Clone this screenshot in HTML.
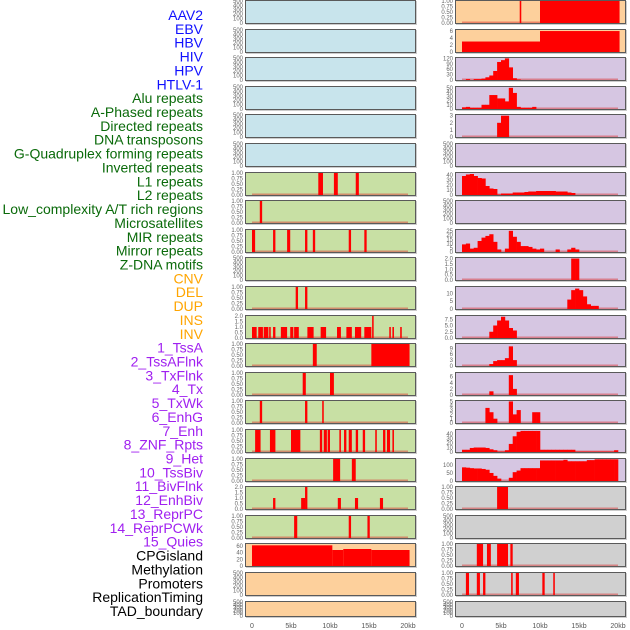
<!DOCTYPE html>
<html><head><meta charset="utf-8"><style>
body{margin:0;background:#fff;width:630px;height:630px;overflow:hidden}
svg{display:block}
</style></head><body>
<svg id="c" width="630" height="630" xmlns="http://www.w3.org/2000/svg"></svg>
<script>
const labels=["AAV2","EBV","HBV","HIV","HPV","HTLV-1","Alu repeats","A-Phased repeats","Directed repeats","DNA transposons","G-Quadruplex forming repeats","Inverted repeats","L1 repeats","L2 repeats","Low_complexity A/T rich regions","Microsatellites","MIR repeats","Mirror repeats","Z-DNA motifs","CNV","DEL","DUP","INS","INV","1_TssA","2_TssAFlnk","3_TxFlnk","4_Tx","5_TxWk","6_EnhG","7_Enh","8_ZNF_Rpts","9_Het","10_TssBiv","11_BivFlnk","12_EnhBiv","13_ReprPC","14_ReprPCWk","15_Quies","CPGisland","Methylation","Promoters","ReplicationTiming","TAD_boundary"];
const xTicks=[0,5,10,15,20];
const xTickLabels=["0","5kb","10kb","15kb","20kb"];
// left column bar segments [startKb,endKb,value]
const L6=[[8.5,9.1,1],[10.5,11.0,1],[13.3,13.7,1]];
const L7=[[1.0,1.3,1]];
const L8=[[0,0.4,1],[2.7,3.0,1],[4.5,4.9,1],[6.8,7.1,1],[7.8,8.1,1],[12.4,12.7,1],[14.4,14.7,1]];
const L10=[[5.6,5.9,1],[6.8,7.1,1]];
const L11=[[0,0.6,1],[0.8,1.4,1],[1.5,2.1,1],[2.2,2.4,1],[2.7,3.0,1],[3.7,4.5,1],[4.9,5.3,1],[5.4,6.0,1],[7.1,7.9,1],[8.8,9.5,1],[10.9,11.4,1],[12.1,12.8,1],[13.2,14.0,1],[14.4,15.3,1],[15.4,15.6,2],[17.6,17.8,1],[18.0,18.2,1],[19.0,19.2,1]];
const L12=[[7.8,8.3,1],[15.3,20.2,1]];
const L13=[[6.5,6.9,1],[10.0,10.5,1]];
const L14=[[1.0,1.3,1],[6.8,7.1,1],[9.0,9.2,1]];
const L15=[[0.4,1.1,1],[2.3,3.0,1],[5.0,6.2,1],[8.7,9.0,1],[9.2,9.6,1],[9.7,10.0,1],[11.2,11.4,1],[11.8,12.1,1],[12.4,12.8,1],[13.3,13.6,1],[14.2,14.5,1],[15.8,16.0,1],[16.8,17.1,1],[17.3,17.7,1],[18.0,18.2,1]];
const L16=[[10.4,11.3,1],[12.8,13.3,1]];
const L17=[[2.7,3.0,1],[6.3,6.8,1],[6.8,7.1,2],[11.0,11.4,1],[13.2,13.6,1],[16.4,16.8,1]];
const L18=[[5.4,5.8,1],[12.4,12.7,1],[14.8,15.1,1]];
const L19=[[0,10.3,62],[10.3,11.7,48],[11.7,15.3,51],[15.3,20.2,48]];
// right column
const R0=[[7.4,7.6,1],[10.0,20.2,1]];
const R1=[[0,10.0,3],[10.0,20.2,6]];
// histograms, 0.5kb bins
const R2=[0,5,0,5,5,8,15,25,50,100,110,120,70,10,3];
const R3=[4,5,3,3,3,10,10,33,33,25,25,18,50,38,5,3,3,3,5];
const R4=[0,0,0,0,0,0,0,0,0,2,3,3];
const R6=[38,41,42,38,34,33,18,13,12,1,3,3,3,5,5,5,6,7,7,8,8,8,8,8,7,7,7,5,4];
const R8=[9,10,4,5,13,17,19,21,12,3,0,4,25,18,12,7,7,6,4,3,4,0,0,0,3,0,0,3,5,3];
const R9=[0,0,0,0,0,0,0,0,0,0,0,0,0,0,0,0,0,0,0,0,0,0,0,0,0,0,0,0,2,2];
const R10=[0,0,0,0,0,0,0,0,0,0,0,0,0,0,0,0,0,0,0,0,0,0,0,0,0,0,0,6,12,13,12,8,3,2,2];
const R11=[0,0,0,0,0,0,0,2.5,5,7,8.5,7,4,3];
const R12=[0,0,0,0,0,0,0,1,2.5,3,3,4,10,3];
const R13=[0,0,0,0,0,0,0,1.2,0,0,0,0,6.5,2];
const R14=[0,0,0,0,0,0,3.5,2.5,1,0,0,0,5,2,3,0,0,0,2.5,2.5];
const R15=[5,5,9,10,10,10,9,6,4,1,1,4,18,35,45,47,47,47,47,47,5,5,5,5,5,5,5,5,5,1,1,1,1,1,1,1,1,1,1,4];
const R16=[85,83,80,78,78,75,70,50,32,15,0,0,20,55,65,80,80,80,80,80,128,128,128,128,128,128,132,123,123,123,123,123,130,130,135,135,135,135,135,135];
const R17=[[4.5,5.9,1]];
const R19=[[1.9,2.7,1],[3.2,3.7,1],[4.5,5.9,1],[6.2,6.5,1]];
const R20=[[0.5,0.9,1],[1.9,2.3,1],[2.7,3.0,1],[6.3,6.5,1],[6.9,7.3,1],[10.3,10.6,1],[11.7,11.9,1]];
const tEmpty=[0,100,200,300,400,500], t01=[0,0.25,0.5,0.75,1];
const BLUE="#c8e4ec",GREEN="#c8e0a4",ORANGE="#fdd09c",PURPLE="#d6c6e2",GRAY="#d0d0d0";
function P(bg,kind,data,ymax,ticks,fmt){return {bg,kind,data,ymax,ticks,fmt};}
const E=(bg)=>P(bg,"empty",null,500,tEmpty,0);
const B=(bg,d)=>P(bg,"bars",d,1,t01,2);
const left=[E(BLUE),E(BLUE),E(BLUE),E(BLUE),E(BLUE),E(BLUE),B(GREEN,L6),B(GREEN,L7),B(GREEN,L8),E(GREEN),B(GREEN,L10),P(GREEN,"bars",L11,2,[0,0.5,1,1.5,2],1),B(GREEN,L12),B(GREEN,L13),B(GREEN,L14),B(GREEN,L15),B(GREEN,L16),P(GREEN,"bars",L17,2,[0,0.5,1,1.5,2],1),B(GREEN,L18),P(ORANGE,"bars",L19,66,[0,20,40,60],0),E(ORANGE),E(ORANGE)];
const right=[B(ORANGE,R0),P(ORANGE,"bars",R1,6.3,[0,2,4,6],0),P(PURPLE,"hist",R2,122,[0,30,60,90,120],0),P(PURPLE,"hist",R3,52,[0,10,20,30,40,50],0),P(PURPLE,"hist",R4,3.1,[0,1,2,3],0),E(PURPLE),P(PURPLE,"hist",R6,44,[0,10,20,30,40],0),E(PURPLE),P(PURPLE,"hist",R8,26,[0,5,10,15,20,25],0),P(PURPLE,"hist",R9,2.05,[0,0.5,1,1.5,2],1),P(PURPLE,"hist",R10,14,[0,5,10],0),P(PURPLE,"hist",R11,8.8,[0,2.5,5,7.5],1),P(PURPLE,"hist",R12,11.2,[0,3,6,9],0),P(PURPLE,"hist",R13,7.2,[0,2,4,6],0),P(PURPLE,"hist",R14,5.1,[0,1,2,3,4,5],0),P(PURPLE,"hist",R15,49,[0,10,20,30,40],0),P(PURPLE,"hist",R16,137,[0,50,100],0),B(GRAY,R17),E(GRAY),B(GRAY,R19),B(GRAY,R20),E(GRAY)];
const NS="http://www.w3.org/2000/svg";
const svg=document.getElementById('c');
function mk(tag,attrs,parent){const e=document.createElementNS(NS,tag);for(const k in attrs)e.setAttribute(k,attrs[k]);(parent||svg).appendChild(e);return e;}
// labels
labels.forEach((t,i)=>{
  const col=i<6?"#1010ff":i<19?"#0a6a0a":i<24?"#ffa500":i<39?"#a020f0":"#000";
  const e=mk('text',{x:203,y:20+i*13.86,'text-anchor':'end','font-family':'Liberation Sans, sans-serif','font-size':14,fill:col});
  
  
  e.textContent=t;
});
function drawPanel(p,i,x0,side){
  const top=Math.round(i*28.6), h=i===21?16:24, w=171;
  const xs=kb=>x0+7+kb*7.8;
  const ys=v=>top+h-1-Math.min(v,p.ymax)/p.ymax*(h-2);
  const g=mk('g',{});
  
  
  mk('rect',{x:x0+1,y:top+1,width:w,height:h,fill:'#999',opacity:0.5},g);
  mk('rect',{x:x0,y:top,width:w,height:h,fill:p.bg},g);
  if(p.kind!=="empty") mk('rect',{x:xs(0),y:top+h-2.5,width:xs(20)-xs(0),height:2,fill:'rgba(220,40,40,0.45)'},g);
  if(p.kind==="bars"){
    p.data.forEach(d=>{const r=mk('rect',{x:xs(d[0]),y:ys(d[2]),width:Math.max(1.5,xs(d[1])-xs(d[0])),height:top+h-1-ys(d[2]),fill:'#ff0000'},g);
      });
  } else if(p.kind==="hist"){
    p.data.forEach((v,k)=>{if(!v)return;const r=mk('rect',{x:xs(k*0.5),y:ys(v),width:xs(0.5)-xs(0)+0.3,height:top+h-1-ys(v),fill:'#ff0000'},g);
      });
  }
  mk('rect',{x:x0+0.5,y:top+0.5,width:w-1,height:h-1,fill:'none',stroke:'#5a5a5a','stroke-width':1},g);
  p.ticks.forEach(t=>{
    const e=mk('text',{x:x0-2,y:ys(t)+2,'text-anchor':'end','font-family':'Liberation Sans, sans-serif','font-size':6,fill:'#666'},g);
    
    
    e.textContent=p.fmt===2?t.toFixed(2):p.fmt===1?t.toFixed(1):String(t);
  });
}
left.forEach((p,i)=>drawPanel(p,i,245,'left'));
right.forEach((p,i)=>drawPanel(p,i,455,'right'));
[245,455].forEach(x0=>{
  xTicks.forEach((t,k)=>{
    const e=mk('text',{x:x0+7+t*7.8,y:628,'text-anchor':'middle','font-family':'Liberation Sans, sans-serif','font-size':7,fill:'#555'});
    
    
    e.textContent=xTickLabels[k];
  });
});
</script>
</body></html>
